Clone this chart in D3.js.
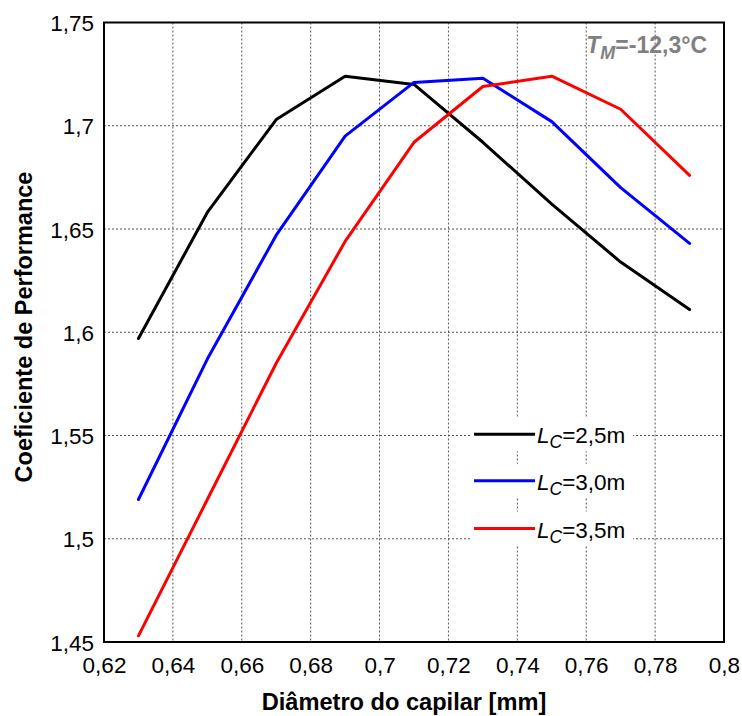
<!DOCTYPE html>
<html>
<head>
<meta charset="utf-8">
<script src="https://cdn.jsdelivr.net/npm/d3@7"></script>
<style>
html,body{margin:0;padding:0;background:#fff;}
svg{display:block;font-family:"Liberation Sans",Arial,sans-serif;}
</style>
</head>
<body>
<svg id="chart" width="742" height="716"></svg>
<script>
const diameters = [0.63, 0.65, 0.67, 0.69, 0.71, 0.73, 0.75, 0.77, 0.79];
const copLc25 = [1.597, 1.658, 1.703, 1.724, 1.720, 1.692, 1.662, 1.634, 1.611];
const copLc30 = [1.519, 1.587, 1.647, 1.695, 1.721, 1.723, 1.702, 1.670, 1.643];
const copLc35 = [1.453, 1.519, 1.585, 1.644, 1.692, 1.719, 1.724, 1.708, 1.676];
const seriesNames = ["=2,5m", "=3,0m", "=3,5m"];
const seriesColors = ["#000000", "#0000ff", "#ff0000"];
const xTicks = [0.62, 0.64, 0.66, 0.68, 0.70, 0.72, 0.74, 0.76, 0.78, 0.80];
const yTicks = [1.45, 1.50, 1.55, 1.60, 1.65, 1.70, 1.75];
const xLabel = "Diâmetro do capilar [mm]";
const yLabel = "Coeficiente de Performance";

const svg = d3.select("#chart");
const L = 104, R = 724, T = 22.5, B = 642;
const x = d3.scaleLinear().domain([0.62, 0.80]).range([L, R]);
const y = d3.scaleLinear().domain([1.45, 1.75]).range([B, T]);
const fmt = v => d3.format("~g")(+v.toFixed(3)).replace(".", ",");

// grid
const grid = svg.append("g").attr("stroke", "#555").attr("stroke-width", 1).attr("stroke-dasharray", "2,2");
xTicks.slice(1, -1).forEach(t => grid.append("line").attr("x1", x(t)).attr("x2", x(t)).attr("y1", T).attr("y2", B));
yTicks.slice(1, -1).forEach(t => grid.append("line").attr("x1", L).attr("x2", R).attr("y1", y(t)).attr("y2", y(t)));

// axes labels
const xAxis = d3.axisBottom(x).tickValues(xTicks).tickSize(0).tickPadding(0).tickFormat(fmt);
const gx = svg.append("g").attr("transform", `translate(0,${B})`).call(xAxis);
gx.select(".domain").remove();
gx.selectAll("text").attr("font-size", 22.5).attr("font-family", "'Liberation Sans',Arial,sans-serif")
  .attr("fill", "#000").attr("dy", null).attr("y", 31);

const yAxis = d3.axisLeft(y).tickValues(yTicks).tickSize(0).tickPadding(0).tickFormat(fmt);
const gy = svg.append("g").attr("transform", `translate(${L - 10},0)`).call(yAxis);
gy.select(".domain").remove();
gy.selectAll("text").attr("font-size", 22.5).attr("font-family", "'Liberation Sans',Arial,sans-serif")
  .attr("fill", "#000").attr("dy", "0.36em").attr("x", 0);

// lines
const allSeries = [copLc25, copLc30, copLc35];
const line = d3.line().x((d, i) => x(diameters[i])).y(d => y(d));
allSeries.forEach((s, k) => {
  svg.append("path").datum(s).attr("d", line).attr("fill", "none")
    .attr("stroke", seriesColors[k]).attr("stroke-width", 3)
    .attr("stroke-linejoin", "round").attr("stroke-linecap", "round");
});

// frame
svg.append("rect").attr("x", L).attr("y", T).attr("width", R - L).attr("height", B - T)
  .attr("fill", "none").attr("stroke", "#000").attr("stroke-width", 2);

// legend
const legY = [434.3, 480.8, 528.5];
seriesNames.forEach((name, k) => {
  const g = svg.append("g");
  g.append("rect").attr("x", 472).attr("y", legY[k] - 17).attr("width", 161).attr("height", 34).attr("fill", "#fff");
  g.append("line").attr("x1", 474).attr("x2", 535).attr("y1", legY[k]).attr("y2", legY[k])
    .attr("stroke", seriesColors[k]).attr("stroke-width", 3);
  const t = g.append("text").attr("x", 537).attr("y", legY[k] + 9).attr("font-size", 22.5).attr("fill", "#000");
  t.append("tspan").attr("font-style", "italic").text("L");
  t.append("tspan").attr("font-style", "italic").attr("font-size", 17.5).attr("dy", 5).text("C");
  t.append("tspan").attr("dy", -5).text(name);
});

// annotation
const ann = svg.append("text").attr("x", 707).attr("y", 53).attr("text-anchor", "end")
  .attr("font-size", 23).attr("font-weight", "bold").attr("fill", "#808080");
ann.append("tspan").attr("font-style", "italic").text("T");
ann.append("tspan").attr("font-style", "italic").attr("font-size", 18).attr("dy", 6).text("M");
ann.append("tspan").attr("dy", -6).text("=-12,3°C");

// axis titles
svg.append("text").attr("x", 404).attr("y", 710).attr("text-anchor", "middle")
  .attr("font-size", 23.6).attr("font-weight", "bold").attr("fill", "#000").text(xLabel);
svg.append("text").attr("transform", "translate(32,327) rotate(-90)").attr("text-anchor", "middle")
  .attr("font-size", 23.5).attr("font-weight", "bold").attr("fill", "#000").text(yLabel);
</script>
</body>
</html>
